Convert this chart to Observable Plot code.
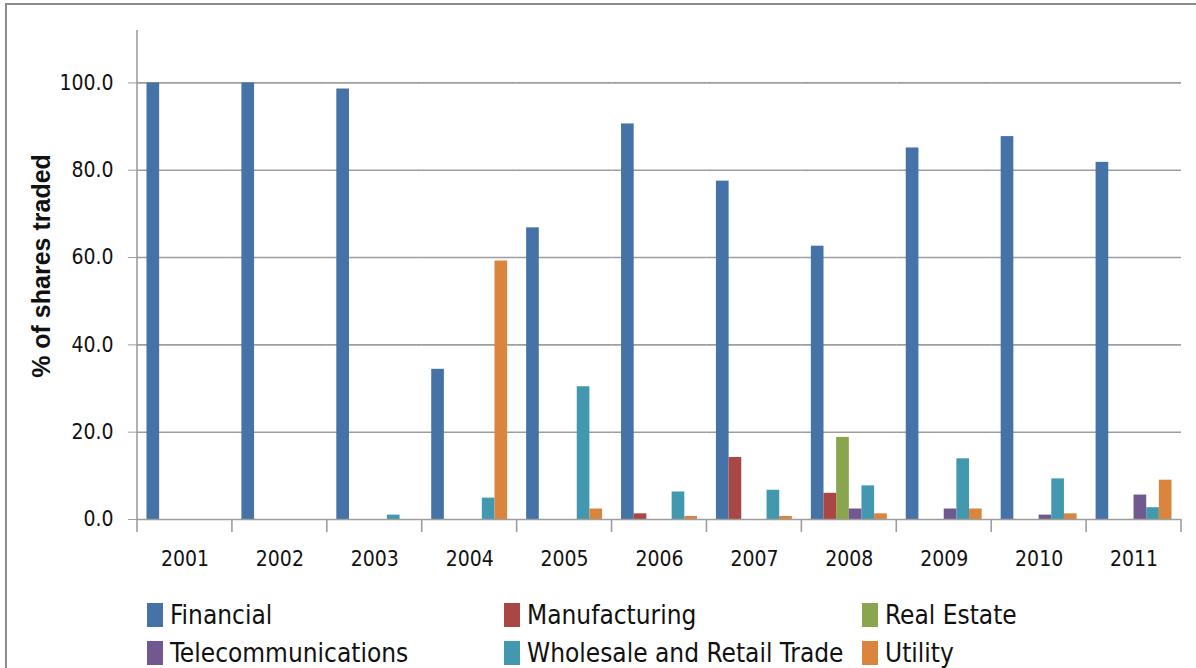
<!DOCTYPE html>
<html>
<head>
<meta charset="utf-8">
<script src="https://cdn.jsdelivr.net/npm/d3@7"></script>
<script src="https://cdn.jsdelivr.net/npm/@observablehq/plot@0.6"></script>
<style>
  html, body { margin: 0; padding: 0; background: #fff; }
  #wrap { position: relative; width: 1196px; height: 668px; overflow: hidden; background: #fff; }
  #frame { position: absolute; left: 5px; top: 3px; width: 1300px; height: 800px;
           border-left: 2px solid #8c8c8c; border-top: 2px solid #8c8c8c; pointer-events: none; }
  #chart { position: absolute; left: 0; top: 0; }
  #ytitle { position: absolute; left: 41px; top: 266px; transform: translate(-50%, -50%) rotate(-90deg);
            font-family: "Liberation Sans", Arial, sans-serif; font-weight: bold; font-size: 25px;
            color: #111; white-space: nowrap; }
  #legend { position: absolute; left: 147px; top: 596px; display: grid;
            grid-template-columns: 357px 358px 300px; grid-auto-rows: 38px; }
  .item { display: flex; align-items: center; height: 38px; white-space: nowrap; line-height: 1;
          font-family: "DejaVu Sans Condensed", "Liberation Sans Narrow", sans-serif; font-size: 26px; color: #111; }
  .sw { width: 16px; height: 24px; margin-right: 7px; flex: none; }
</style>
</head>
<body>
<div id="wrap">
  <div id="chart"></div>
  <div id="ytitle">% of shares traded</div>
  <div id="legend"></div>
  <div id="frame"></div>
</div>
<script>
const years = ["2001","2002","2003","2004","2005","2006","2007","2008","2009","2010","2011"];
const seriesNames = ["Financial","Manufacturing","Real Estate","Telecommunications","Wholesale and Retail Trade","Utility"];
const seriesColors = ["#4572A7","#AA4643","#89A54E","#71588F","#4198AF","#DB843D"];
const financial     = [100.0, 100.0, 98.6, 34.4, 66.8, 90.6, 77.5, 62.6, 85.1, 87.7, 81.8];
const manufacturing = [0, 0, 0, 0, 0, 1.3, 14.2, 6.0, 0, 0, 0];
const realEstate    = [0, 0, 0, 0, 0, 0, 0, 18.8, 0, 0, 0];
const telecom       = [0, 0, 0, 0, 0, 0, 0, 2.4, 2.4, 1.0, 5.6];
const wholesale     = [0, 0, 1.0, 4.9, 30.4, 6.3, 6.7, 7.7, 13.9, 9.3, 2.7];
const utility       = [0, 0, 0, 59.2, 2.4, 0.7, 0.7, 1.3, 2.4, 1.3, 9.0];
const yTicks = [0, 20, 40, 60, 80, 100];
const yMax = 112;

const seriesValues = [financial, manufacturing, realEstate, telecom, wholesale, utility];
const data = [];
seriesNames.forEach((s, i) => {
  years.forEach((yr, j) => {
    const v = seriesValues[i][j];
    if (v > 0) data.push({year: yr, series: s, value: v});
  });
});

const FONT = '"DejaVu Sans Condensed", "Liberation Sans Narrow", sans-serif';
const GRID = "#9e9e9e";

const chart = Plot.plot({
  width: 1196,
  height: 592,
  marginTop: 30,
  marginBottom: 73,
  marginLeft: 137,
  marginRight: 15,
  style: {fontFamily: FONT, fontSize: "21px", color: "#111", background: "transparent"},
  fx: {domain: years, padding: 0, round: false, label: null, axis: "bottom", tickSize: 0, tickPadding: 32},
  x: {domain: seriesNames, paddingInner: 0, paddingOuter: 0.75, round: false, axis: null},
  y: {domain: [0, yMax], ticks: yTicks, tickFormat: d => d.toFixed(1), tickSize: 9, tickPadding: 15, label: null},
  color: {domain: seriesNames, range: seriesColors},
  marks: [
    Plot.ruleY(yTicks.filter(d => d > 0), {stroke: GRID, strokeWidth: 1.6}),
    Plot.barY(data, {fx: "year", x: "series", y: "value", fill: "series", inset: 0}),
    Plot.ruleY([0], {stroke: GRID, strokeWidth: 1.6})
  ]
});
document.getElementById("chart").appendChild(chart);

chart.querySelectorAll('[aria-label="y-axis tick"] path, [aria-label="y-axis tick"] line').forEach(p => p.setAttribute("stroke", GRID));

const fxS = chart.scale("fx");
const yS = chart.scale("y");
const fxBand = d3.scaleBand().domain(fxS.domain).range(fxS.range).paddingInner(0).paddingOuter(0);
const yLin = d3.scaleLinear().domain(yS.domain).range(yS.range);
const svg = d3.select(chart);
const g = svg.append("g").attr("stroke", GRID).attr("stroke-width", 1.6);
const x0 = fxBand(years[0]);
g.append("line").attr("x1", x0).attr("x2", x0).attr("y1", yLin(yMax)).attr("y2", yLin(0));
const bounds = years.map(y => fxBand(y)).concat([fxBand(years[years.length - 1]) + fxBand.bandwidth()]);
bounds.forEach(b => {
  g.append("line").attr("x1", b).attr("x2", b).attr("y1", yLin(0)).attr("y2", yLin(0) + 13);
});

const legend = document.getElementById("legend");
seriesNames.forEach((name, i) => {
  const it = document.createElement("div");
  it.className = "item";
  it.innerHTML = `<span class="sw" style="background:${seriesColors[i]}"></span><span>${name}</span>`;
  legend.appendChild(it);
});
</script>
</body>
</html>
